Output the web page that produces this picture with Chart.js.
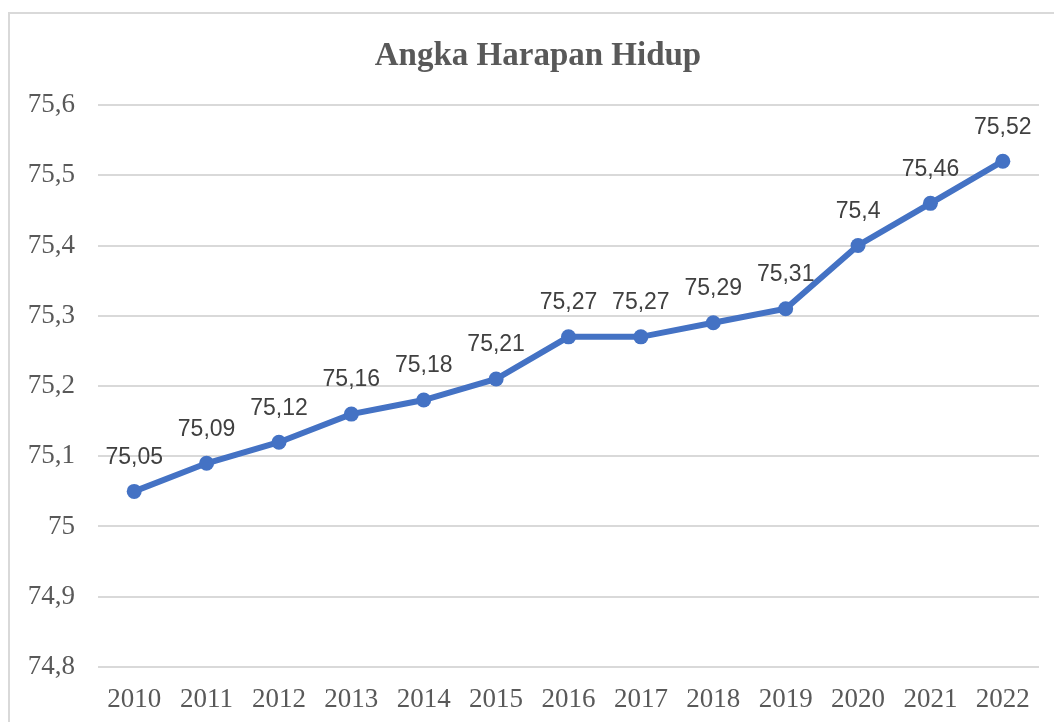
<!DOCTYPE html>
<html>
<head>
<meta charset="utf-8">
<script src="https://cdn.jsdelivr.net/npm/chart.js@4.4.1/dist/chart.umd.min.js"></script>
<style>
  html, body { margin: 0; padding: 0; background: #fff; overflow: hidden; }
  #wrap { position: relative; width: 1054px; height: 722px; }
  #frame { position: absolute; left: 8px; top: 12px; width: 1100px; height: 800px; border: 2px solid #d9d9d9; box-sizing: border-box; }
  #chart { position: absolute; left: 0; top: 0; }
</style>
</head>
<body>
<div id="wrap">
  <div id="frame"></div>
  <canvas id="chart" width="1054" height="722"></canvas>
</div>
<script>
const chartTitle = 'Angka Harapan Hidup';
const years = ['2010', '2011', '2012', '2013', '2014', '2015', '2016', '2017', '2018', '2019', '2020', '2021', '2022'];
const ahh = [75.05, 75.09, 75.12, 75.16, 75.18, 75.21, 75.27, 75.27, 75.29, 75.31, 75.4, 75.46, 75.52];

function comma(v) {
  return Number(v.toFixed(2)).toString().replace('.', ',');
}

// title + labels above each point, point positions come from the chart's own elements
const pointLabels = {
  id: 'pointLabels',
  afterDatasetsDraw(chart) {
    const ctx = chart.ctx;
    const meta = chart.getDatasetMeta(0);
    ctx.save();
    ctx.textAlign = 'center';
    ctx.textBaseline = 'middle';

    ctx.font = 'bold 33px "Liberation Serif", "Times New Roman", serif';
    ctx.fillStyle = '#595959';
    ctx.fillText(chartTitle, chart.width / 2 + 11, 56);

    ctx.font = '23px "Liberation Sans", Arial, sans-serif';
    ctx.fillStyle = '#404040';
    meta.data.forEach((pt, i) => {
      ctx.fillText(comma(ahh[i]), pt.x, pt.y - 34);
    });
    ctx.restore();
  }
};

new Chart(document.getElementById('chart'), {
  type: 'line',
  data: {
    labels: years,
    datasets: [{
      data: ahh,
      borderColor: '#4472C4',
      backgroundColor: '#4472C4',
      borderWidth: 6,
      pointRadius: 7.5,
      pointHoverRadius: 7.5,
      pointBorderWidth: 0,
      tension: 0
    }]
  },
  options: {
    responsive: false,
    animation: false,
    devicePixelRatio: 1,
    layout: { padding: { left: 0, right: 15, top: 105, bottom: 0 } },
    plugins: {
      legend: { display: false },
      tooltip: { enabled: false },
      title: { display: false }
    },
    scales: {
      x: {
        offset: true,
        afterFit(scale) { scale.height = 55; },
        grid: { display: false, drawTicks: false },
        border: { display: false },
        ticks: {
          color: '#595959',
          padding: 17,
          maxRotation: 0,
          font: { family: '"Liberation Serif", "Times New Roman", serif', size: 27 }
        }
      },
      y: {
        min: 74.8,
        max: 75.6,
        afterFit(scale) { scale.width = 98; },
        grid: { color: '#d9d9d9', lineWidth: 2, drawTicks: false },
        border: { display: false },
        ticks: {
          stepSize: 0.1,
          padding: 23,
          color: '#595959',
          font: { family: '"Liberation Serif", "Times New Roman", serif', size: 27 },
          callback: v => Number(v.toFixed(1)).toString().replace('.', ',')
        }
      }
    }
  },
  plugins: [pointLabels]
});
</script>
</body>
</html>
